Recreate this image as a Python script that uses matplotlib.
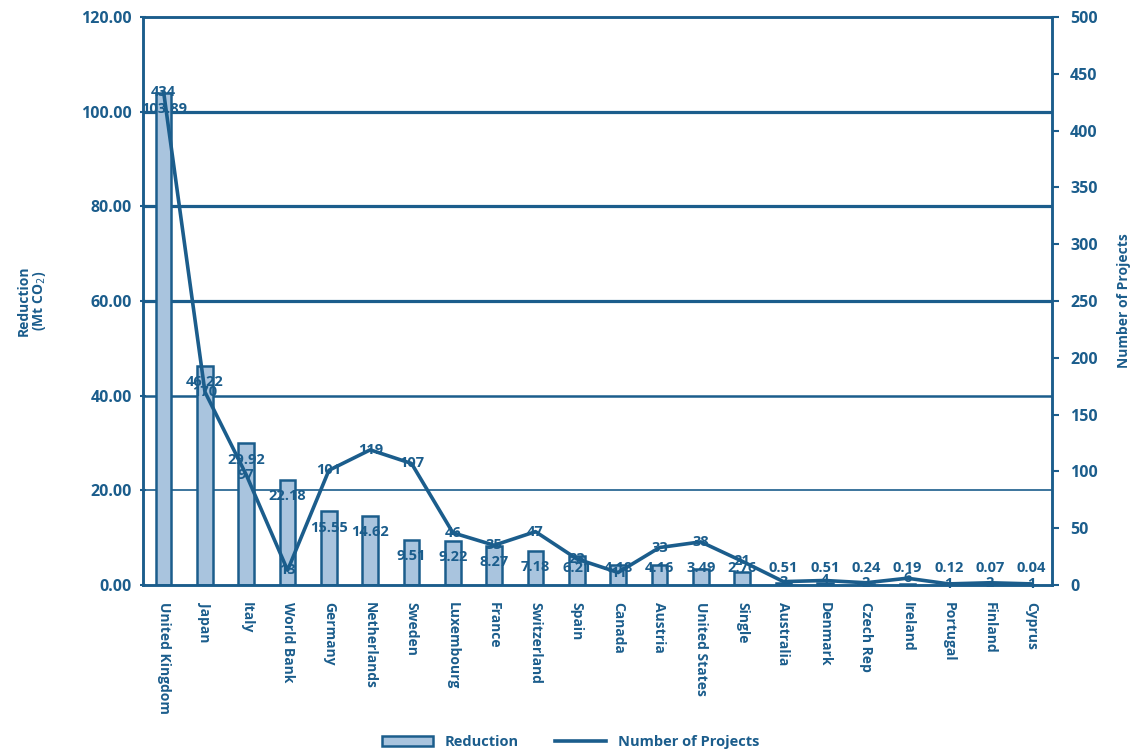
import numpy as np
from matplotlib import pyplot as plt
from matplotlib.lines import Line2D
from matplotlib.patches import Patch

countries = ['United Kingdom', 'Japan', 'Italy', 'World Bank', 'Germany', 'Netherlands',
             'Sweden', 'Luxembourg', 'France', 'Switzerland', 'Spain', 'Canada', 'Austria',
             'United States', 'Single', 'Australia', 'Denmark', 'Czech Rep', 'Ireland',
             'Portugal', 'Finland', 'Cyprus']
reduction = [103.89, 46.22, 29.92, 22.18, 15.55, 14.62, 9.51, 9.22, 8.27, 7.18, 6.21,
             4.18, 4.16, 3.49, 2.76, 0.51, 0.51, 0.24, 0.19, 0.12, 0.07, 0.04]
projects = [434, 170, 97, 13, 101, 119, 107, 46, 35, 47, 23, 11, 33, 38, 21, 3, 4, 2, 6, 1, 2, 1]

dark = '#1b5d8c'
light = '#a9c4de'

plt.rcParams['font.family'] = ['Open Sans', 'DejaVu Sans']

fig = plt.figure(figsize=(11.41, 7.51), dpi=100)
ax = fig.add_axes([0.1253, 0.221, 0.7967, 0.7563])
ax2 = ax.twinx()

x = np.arange(len(countries))

# grid lines (the thickness varies in the original scan)
for val, lw in zip([20, 40, 60, 80, 100], [1.2, 1.8, 2.3, 2.3, 2.3]):
    ax.axhline(val, color=dark, lw=lw, zorder=0)

ax.bar(x, reduction, width=0.38, color=light, edgecolor=dark, linewidth=1.8, zorder=2)
ax.set_ylim(0, 120)
ax.set_xlim(-0.5, len(countries) - 0.5)
ax.set_yticks(np.arange(0, 121, 20))
ax.set_yticklabels(['%.2f' % v for v in np.arange(0, 121, 20)])

ax2.plot(x, projects, color=dark, lw=2.6, zorder=3)
ax2.set_ylim(0, 500)
ax2.set_yticks(np.arange(0, 501, 50))

ax.set_zorder(ax2.get_zorder() - 1)
ax.patch.set_visible(False)

# data labels
for i, v in enumerate(reduction):
    ax.text(i, max(v - 3.4, 3.6), '%.2f' % v, ha='center', va='center',
            fontsize=10.5, fontweight='bold', color=dark, zorder=5)
for i, p in enumerate(projects):
    ax2.text(i, p, str(p), ha='center', va='center',
             fontsize=10.5, fontweight='bold', color=dark, zorder=5)

ax.set_xticks(x)
ax.set_xticklabels(countries, rotation=-90, fontsize=10, fontweight='bold', color=dark)
ax.tick_params(axis='x', length=0, pad=12)
ax.tick_params(axis='y', colors=dark, labelsize=11.5, length=4, width=1.5, direction='inout', pad=6)
ax2.tick_params(axis='y', colors=dark, labelsize=11.5, length=5, width=1.5, pad=8)
for lab in ax.get_yticklabels() + ax2.get_yticklabels():
    lab.set_fontweight('bold')

for a in (ax, ax2):
    for s in a.spines.values():
        s.set_color(dark)
        s.set_linewidth(1.8)

ax.set_ylabel('Reduction\n(Mt CO$_2$)', color=dark, fontsize=10, fontweight='bold',
              labelpad=24, linespacing=1.0)
ax2.set_ylabel('Number of Projects', color=dark, fontsize=10, fontweight='bold',
               rotation=90, labelpad=14)

handles = [Patch(facecolor=light, edgecolor=dark, linewidth=1.8),
           Line2D([0], [0], color=dark, lw=2.6)]
fig.legend(handles, ['Reduction', 'Number of Projects'], loc='lower center',
           bbox_to_anchor=(0.5, -0.015), ncol=2, frameon=False, columnspacing=2.5,
           handlelength=3.5, prop={'weight': 'bold', 'size': 10.5}, labelcolor=dark)

plt.savefig('out.png', dpi=100)
